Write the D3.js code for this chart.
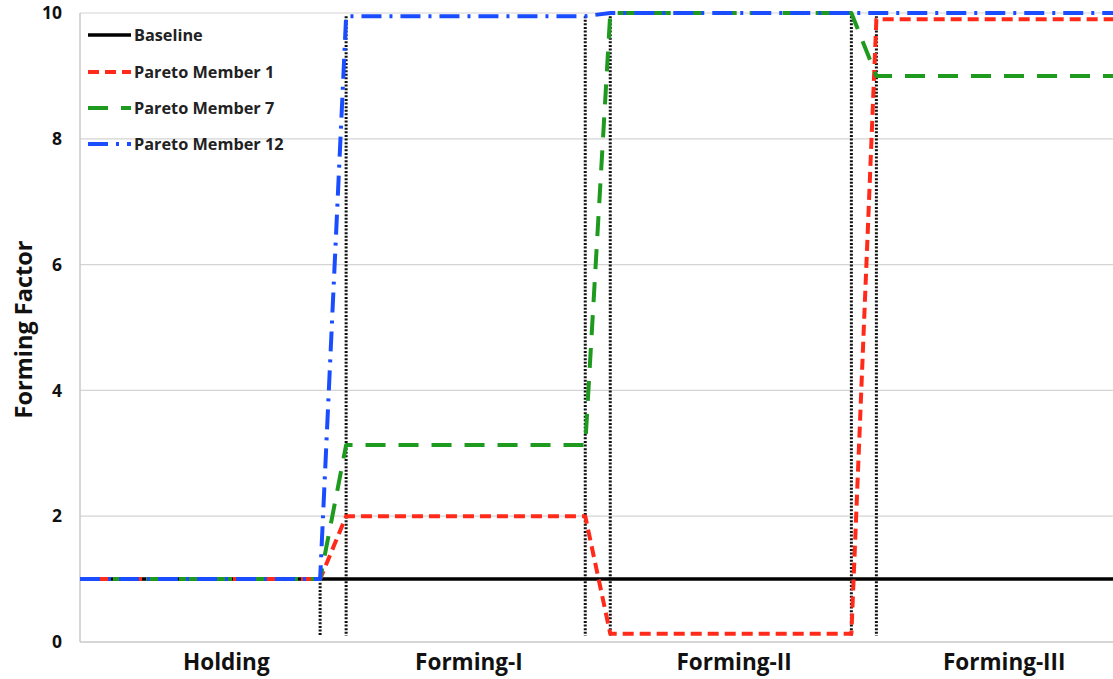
<!DOCTYPE html>
<html>
<head>
<meta charset="utf-8">
<script src="https://cdn.jsdelivr.net/npm/d3@7"></script>
<style>
  html, body { margin: 0; padding: 0; background: #fff; }
  svg { display: block; font-family: "Open Sans", Lato, sans-serif; }
</style>
</head>
<body>
<svg id="chart" width="1113" height="679"></svg>
<script>
// ---- Data ----
const categories = ["Holding", "Forming-I", "Forming-II", "Forming-III"];
const categoryPos = [5.85, 15.55, 26.15, 36.95];
const stageBreaks = [9.6, 10.64, 20.2, 21.2, 30.84, 31.84];
const yTicks = [0, 2, 4, 6, 8, 10];
const seriesNames = ["Baseline", "Pareto Member 1", "Pareto Member 7", "Pareto Member 12"];

const baselineX = [0, 41.3];
const baselineY = [1, 1];
const member1X = [0, 9.6, 10.64, 20.2, 21.2, 30.84, 31.84, 41.3];
const member1Y = [1, 1, 2.0, 2.0, 0.13, 0.13, 9.9, 9.9];
const member7X = [0, 9.6, 10.64, 20.2, 21.2, 30.84, 31.84, 41.3];
const member7Y = [1, 1, 3.13, 3.13, 10, 10, 9.0, 9.0];
const member12X = [0, 9.6, 10.64, 20.2, 21.2, 41.3];
const member12Y = [1, 1, 9.95, 9.95, 10, 10];

// ---- Layout ----
const svg = d3.select("#chart");
const mLeft = 80, mRight = 1113, mTop = 13, mBottom = 642;
const x = d3.scaleLinear().domain([0, 41.3]).range([mLeft, mRight]);
const y = d3.scaleLinear().domain([0, 10]).range([mBottom, mTop]);

// gridlines
svg.append("g").selectAll("line").data(yTicks.filter(d => d > 0)).join("line")
  .attr("x1", mLeft).attr("x2", mRight)
  .attr("y1", d => y(d)).attr("y2", d => y(d))
  .attr("stroke", "#d4d4d4").attr("stroke-width", 1.2);

// axes frame
svg.append("line").attr("x1", mLeft).attr("x2", mLeft).attr("y1", mTop).attr("y2", mBottom)
  .attr("stroke", "#c8c8c8").attr("stroke-width", 1.5);
svg.append("line").attr("x1", mLeft).attr("x2", mRight).attr("y1", mBottom).attr("y2", mBottom)
  .attr("stroke", "#c8c8c8").attr("stroke-width", 1.5);

// y tick labels via axis
const yAxis = d3.axisLeft(y).tickValues(yTicks).tickSize(0).tickPadding(18).tickFormat(d3.format("d"));
const ya = svg.append("g").attr("transform", `translate(${mLeft},0)`).call(yAxis);
ya.select(".domain").remove();
ya.selectAll("text").attr("font-size", 17.5).attr("font-weight", "bold")
  .attr("font-family", "'Open Sans', sans-serif").attr("fill", "#111");

// y title
svg.append("text").attr("transform", `translate(32,${(mTop + mBottom) / 2 + 2}) rotate(-90)`)
  .attr("text-anchor", "middle").attr("font-size", 23.5).attr("font-weight", "bold")
  .attr("fill", "#111").text("Forming Factor");

// category labels
svg.append("g").selectAll("text").data(categories).join("text")
  .attr("x", (d, i) => x(categoryPos[i])).attr("y", 670)
  .attr("text-anchor", "middle").attr("font-size", 22.5).attr("font-weight", "bold")
  .attr("fill", "#111").text(d => d);

// stage boundary dotted lines
svg.append("g").selectAll("line").data(stageBreaks).join("line")
  .attr("x1", d => x(d)).attr("x2", d => x(d))
  .attr("y1", (d, i) => i === 0 ? y(1) : y(9.95))
  .attr("y2", y(0.1))
  .attr("stroke", "#111").attr("stroke-width", 3).attr("stroke-dasharray", "2,1.6");

const line = d3.line().x(d => x(d[0])).y(d => y(d[1]));
const zip = (xs, ys) => xs.map((v, i) => [v, ys[i]]);

const styles = [
  { color: "#000000", dash: null, w: 3.5, xs: baselineX, ys: baselineY },
  { color: "#ff2a1a", dash: "11,6", w: 4, xs: member1X, ys: member1Y },
  { color: "#1e9a1e", dash: "20,13", w: 4, xs: member7X, ys: member7Y },
  { color: "#1a4dff", dash: "20,8,3,8", w: 4, xs: member12X, ys: member12Y }
];

styles.forEach(s => {
  svg.append("path").datum(zip(s.xs, s.ys))
    .attr("d", line).attr("fill", "none")
    .attr("stroke", s.color).attr("stroke-width", s.w)
    .attr("stroke-dasharray", s.dash).attr("stroke-linejoin", "round");
});

// legend
const legendY = [35, 72, 108, 144];
const lg = svg.append("g");
styles.forEach((s, i) => {
  lg.append("line").attr("x1", 88).attr("x2", 131).attr("y1", legendY[i]).attr("y2", legendY[i])
    .attr("stroke", s.color).attr("stroke-width", s.w).attr("stroke-dasharray", s.dash);
  lg.append("text").attr("x", 134).attr("y", legendY[i] + 5.5)
    .attr("font-size", 16.3).attr("font-weight", "bold").attr("fill", "#222")
    .text(seriesNames[i]);
});
</script>
</body>
</html>
